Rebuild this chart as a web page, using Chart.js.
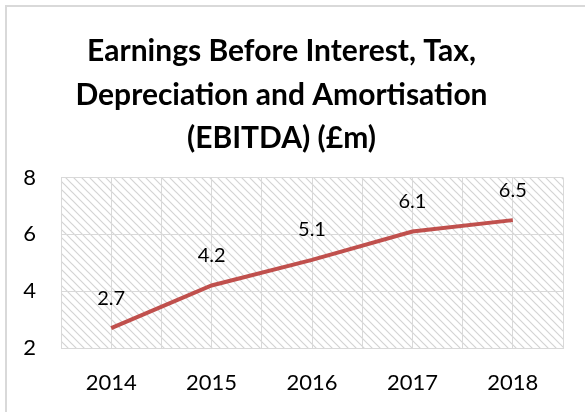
<!DOCTYPE html>
<html>
<head>
<meta charset="utf-8">
<script src="https://cdn.jsdelivr.net/npm/chart.js@4"></script>
<style>
  html, body { margin: 0; padding: 0; background: #fff; overflow: hidden; }
  #wrap { width: 585px; height: 412px; }
</style>
</head>
<body>
<div id="wrap"><canvas id="myChart" width="585" height="412"></canvas></div>
<script>
const years = [2014, 2015, 2016, 2017, 2018];
const ebitda = [2.7, 4.2, 5.1, 6.1, 6.5];
const yTicks = [2, 4, 6, 8];

const titleLines = ['Earnings Before Interest, Tax,', 'Depreciation and Amortisation', '(EBITDA) (£m)'];

// hatched plot background
function makeHatch() {
    const c = document.createElement('canvas');
    c.width = 8; c.height = 8;
    const g = c.getContext('2d');
    g.fillStyle = '#ffffff';
    g.fillRect(0, 0, 8, 8);
    g.strokeStyle = '#d4d4d4';
    g.lineWidth = 1.2;
    g.beginPath();
    g.moveTo(-2, -2); g.lineTo(10, 10);
    g.moveTo(-2, 6); g.lineTo(2, 10);
    g.moveTo(6, -2); g.lineTo(10, 2);
    g.stroke();
    return c;
}

const bgPlugin = {
    id: 'bg',
    beforeDraw(chart) {
        const ctx = chart.ctx;
        const a = chart.chartArea;
        ctx.save();
        ctx.fillStyle = '#fff';
        ctx.fillRect(0, 0, chart.width, chart.height);
        // outer frame (only top and left edges visible)
        ctx.fillStyle = '#d9d9d9';
        ctx.fillRect(5, 5, chart.width - 5, 2);
        ctx.fillRect(5, 5, 2, chart.height - 5);
        ctx.fillStyle = ctx.createPattern(makeHatch(), 'repeat');
        ctx.fillRect(a.left, a.top, a.right - a.left, a.bottom - a.top);
        ctx.restore();
    }
};

const labelPlugin = {
    id: 'pointLabels',
    afterDatasetsDraw(chart) {
        const ctx = chart.ctx;
        const meta = chart.getDatasetMeta(0);
        ctx.save();
        ctx.font = '20px Lato';
        ctx.fillStyle = '#000';
        ctx.textAlign = 'center';
        ctx.textBaseline = 'middle';
        meta.data.forEach((pt, i) => {
            ctx.fillText(ebitda[i].toFixed(1), pt.x, pt.y - 30);
        });
        ctx.restore();
    }
};

const data = {
    datasets: [{
        label: 'EBITDA',
        data: years.map((y, i) => ({ x: y, y: ebitda[i] })),
        borderColor: '#c0504d',
        borderWidth: 4,
        pointRadius: 0,
        tension: 0,
        fill: false
    }]
};

const config = {
    type: 'line',
    data: data,
    options: {
        responsive: false,
        animation: false,
        layout: { padding: { top: 0, right: 22, bottom: 0, left: 0 } },
        plugins: {
            legend: { display: false },
            tooltip: { enabled: false },
            title: {
                display: true,
                text: titleLines,
                color: '#000',
                font: { family: 'Lato', size: 30, weight: 'bold', lineHeight: 1.45 },
                padding: { top: 30, bottom: 17 }
            }
        },
        scales: {
            x: {
                type: 'linear',
                min: 2013.5,
                max: 2018.5,
                afterBuildTicks(scale) {
                    const t = [];
                    for (let v = 2013.5; v <= 2018.5; v += 0.5) t.push({ value: v });
                    scale.ticks = t;
                },
                afterFit(scale) { scale.height = 64; },
                grid: { color: '#d9d9d9', lineWidth: 1, drawTicks: false },
                border: { color: '#d9d9d9' },
                ticks: {
                    color: '#000',
                    font: { family: 'Lato', size: 22 },
                    padding: 22,
                    autoSkip: false,
                    maxRotation: 0,
                    callback: v => years.includes(v) ? String(v) : ''
                }
            },
            y: {
                min: yTicks[0],
                max: yTicks[yTicks.length - 1],
                afterBuildTicks(scale) {
                    scale.ticks = yTicks.map(v => ({ value: v }));
                },
                afterFit(scale) { scale.width = 61; },
                grid: { color: '#d9d9d9', lineWidth: 1, drawTicks: false },
                border: { color: '#d9d9d9' },
                ticks: {
                    color: '#000',
                    font: { family: 'Lato', size: 22 },
                    padding: 25
                }
            }
        }
    },
    plugins: [bgPlugin, labelPlugin]
};

const myChart = new Chart(document.getElementById('myChart'), config);
</script>
</body>
</html>
